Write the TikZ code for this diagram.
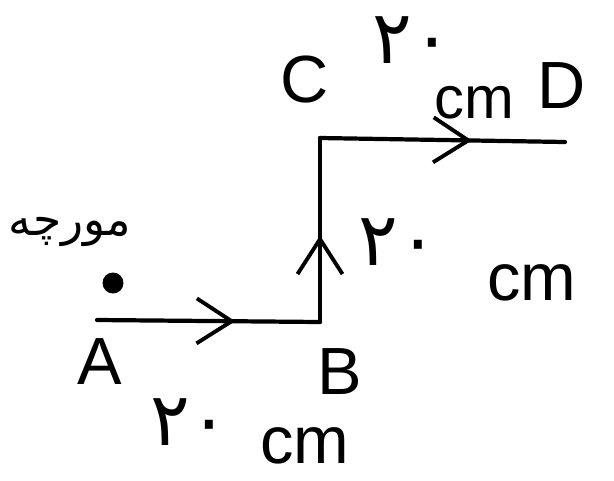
\documentclass[tikz,border=0pt]{standalone}
\usepackage{fontspec}
\setmainfont{Liberation Sans}
\newfontfamily\arabicfont[Script=Arabic]{DejaVu Sans}
\TeXXeTstate=1
\usetikzlibrary{arrows.meta,decorations.markings}

\tikzset{
  path/.style={line width=2.4pt, line cap=round, line join=round,
    decoration={markings, mark=at position #1 with
      {\arrow{Straight Barb[length=7mm,width=9mm,line width=2.2pt]}}},
    postaction={decorate}},
  letter/.style={font=\fontsize{38}{42}\selectfont, inner sep=0pt},
  digits/.style={font=\arabicfont\fontsize{42}{46}\selectfont, inner sep=0pt},
  unit/.style={font=\fontsize{38}{42}\selectfont, inner sep=0pt}
}

\begin{document}
\begin{tikzpicture}[x=0.02cm, y=-0.02cm]
			\useasboundingbox (0,0) rectangle (614,480);
			
			% Corners
			\coordinate (A) at (97,320);
			\coordinate (B) at (320,322);
			\coordinate (C) at (320,138);
			\coordinate (D) at (565,142);
			
			% Ant
			\node[circle, fill, inner sep=0pt, minimum size=0.42cm] (ant) at (113,283) {};
			\node[font=\arabicfont\fontsize{26}{30}\selectfont, inner sep=0pt] (antname) at (70,232) {\beginR مورچه\endR};
			
			% Labels
			\node[letter] (la) at (100,362) {A};
			\node[letter] (lb) at (340,372) {B};
			\node[letter] (lc) at (305,80) {C};
			\node[letter] (ld) at (562,86) {D};
			
			\node[digits] (dcd) at (412,40) {۲۰};
			\node[unit, font=\fontsize{34}{38}\selectfont] (ucd) at (474,103) {cm};
			\node[digits] (dbc) at (398,242) {۲۰};
			\node[unit] (ubc) at (532,283) {cm};
			\node[digits] (dab) at (190,422) {۲۰};
			\node[unit] (uab) at (305,446) {cm};
			
			% Path of the ant
			\draw[path=0.62] (A) -- (B);
			\draw[path=0.47] (B) -- (C);
			\draw[path=0.62] (C) -- (D);
			
		\end{tikzpicture}
\end{document}
